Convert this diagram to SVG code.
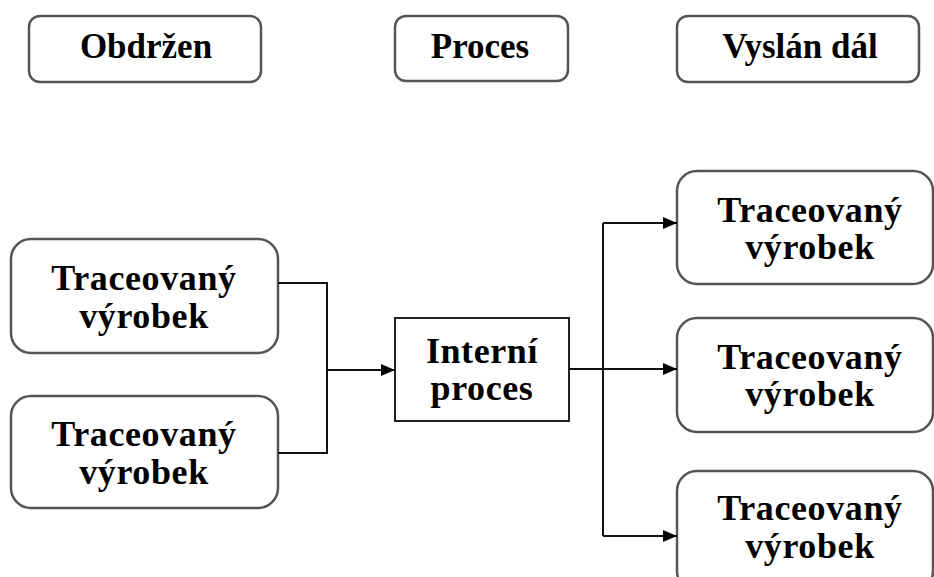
<svg xmlns="http://www.w3.org/2000/svg" width="934" height="577" viewBox="0 0 934 577">
  <style>
    .hdr { fill: #fff; stroke: #555; stroke-width: 2.5; }
    .item { fill: #fff; stroke: #555; stroke-width: 2.5; }
    .proc { fill: #fff; stroke: #222; stroke-width: 2; }
    .lbl { font-family: "Liberation Serif", "Times New Roman", serif; font-weight: bold; font-size: 35px; fill: #000; text-anchor: middle; }
    .big { font-size: 36px; letter-spacing: 0.6px; }
    .wire { fill: none; stroke: #111; stroke-width: 2; }
  </style>
  <defs>
    <marker id="arrow" viewBox="0 0 14 12" refX="14" refY="6" markerWidth="14" markerHeight="12" markerUnits="userSpaceOnUse" orient="auto">
      <path d="M0,0 L14,6 L0,12 Z" fill="#000"/>
    </marker>
  </defs>
  <rect width="934" height="577" fill="#fff"/>

  <!-- column headers -->
  <g id="hdr-obdrzen">
    <rect class="hdr" x="29" y="16" width="232" height="66" rx="11"/>
    <text class="lbl" x="146" y="58">Obdržen</text>
  </g>
  <g id="hdr-proces">
    <rect class="hdr" x="395" y="16" width="173" height="65" rx="11"/>
    <text class="lbl" x="480" y="58">Proces</text>
  </g>
  <g id="hdr-vyslan">
    <rect class="hdr" x="677" y="16" width="242" height="66" rx="11"/>
    <text class="lbl" x="800" y="58">Vyslán dál</text>
  </g>

  <!-- incoming items -->
  <g id="in-1">
    <rect class="item" x="11" y="239" width="267" height="114" rx="20"/>
    <text class="lbl big" x="144" y="290">Traceovaný</text>
    <text class="lbl big" x="144" y="328">výrobek</text>
  </g>
  <g id="in-2">
    <rect class="item" x="11" y="396" width="267" height="112" rx="20"/>
    <text class="lbl big" x="144" y="446">Traceovaný</text>
    <text class="lbl big" x="144" y="484">výrobek</text>
  </g>

  <!-- internal process -->
  <g id="internal">
    <rect class="proc" x="395" y="318" width="174" height="103"/>
    <text class="lbl big" x="482" y="363">Interní</text>
    <text class="lbl big" x="482" y="400">proces</text>
  </g>

  <!-- outgoing items -->
  <g id="out-1">
    <rect class="item" x="677" y="171" width="256" height="113" rx="20"/>
    <text class="lbl big" x="810" y="222">Traceovaný</text>
    <text class="lbl big" x="810" y="259">výrobek</text>
  </g>
  <g id="out-2">
    <rect class="item" x="677" y="318" width="256" height="114" rx="20"/>
    <text class="lbl big" x="810" y="369">Traceovaný</text>
    <text class="lbl big" x="810" y="406">výrobek</text>
  </g>
  <g id="out-3">
    <rect class="item" x="677" y="471" width="256" height="120" rx="20"/>
    <text class="lbl big" x="810" y="520">Traceovaný</text>
    <text class="lbl big" x="810" y="558">výrobek</text>
  </g>

  <!-- connectors -->
  <g id="connectors">
    <path class="wire" d="M278,283 H327 V453 H278"/>
    <path class="wire" d="M327,370 H395" marker-end="url(#arrow)"/>
    <path class="wire" d="M569,369 H677" marker-end="url(#arrow)"/>
    <path class="wire" d="M603,369 V223"/>
    <path class="wire" d="M603,223 H677" marker-end="url(#arrow)"/>
    <path class="wire" d="M603,369 V536"/>
    <path class="wire" d="M603,536 H677" marker-end="url(#arrow)"/>
  </g>
</svg>
